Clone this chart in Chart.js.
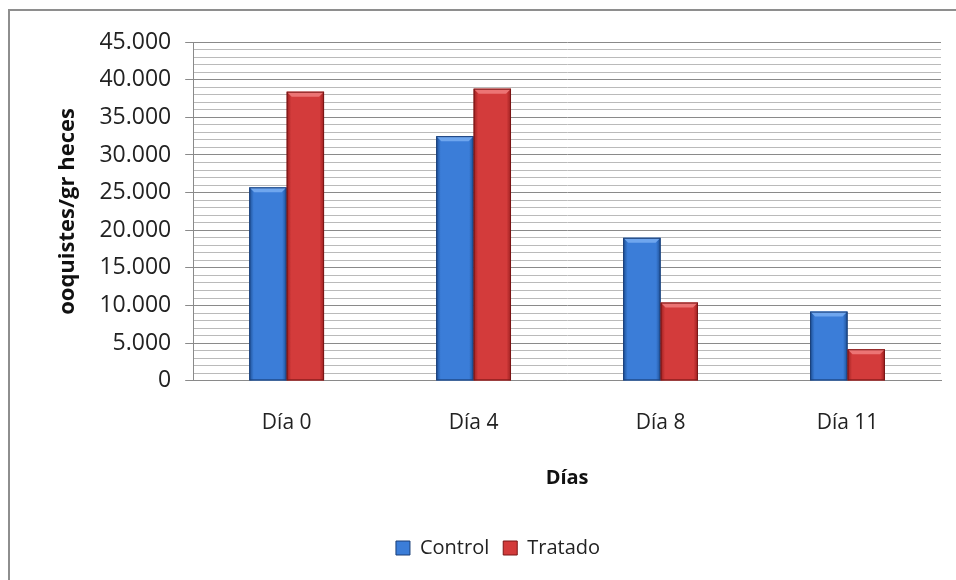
<!DOCTYPE html>
<html>
<head>
<meta charset="utf-8">
<script src="https://cdn.jsdelivr.net/npm/chart.js@4/dist/chart.umd.min.js"></script>
<style>
  html, body { margin: 0; padding: 0; background: #fff; }
  #marco { position: absolute; left: 8px; top: 9px; width: 960px; height: 590px; border: 2px solid #8e8e8e; box-sizing: border-box; }
  #contenedor { position: absolute; left: 0; top: 0; width: 956px; height: 580px; }
</style>
</head>
<body>
<div id="marco"></div>
<div id="contenedor"><canvas id="grafico"></canvas></div>
<script>
// Datos
const categorias = ['Día 0', 'Día 4', 'Día 8', 'Día 11'];
const control = [25700, 32500, 19000, 9200];
const tratado = [38400, 38800, 10400, 4200];
const ejeMax = 45000;
const pasoMayor = 5000;
const pasoMenor = 1000;

// Formato con punto de miles (45.000)
function formatoMiles(v) {
    return String(v).replace(/\B(?=(\d{3})+(?!\d))/g, '.');
}

const colores = {
    Control: { base: '#3b7dd8', claro: '#6fa6ee', oscuro: '#1d4f95', borde: '#1a3f78' },
    Tratado: { base: '#d33b3b', claro: '#ec7474', oscuro: '#9b1f1f', borde: '#7a1616' }
};

// Plugin para dar el efecto biselado a las barras
const biselBarras = {
    id: 'biselBarras',
    afterDatasetsDraw(chart) {
        const ctx = chart.ctx;
        chart.data.datasets.forEach((ds, i) => {
            const meta = chart.getDatasetMeta(i);
            const c = colores[ds.label];
            meta.data.forEach(bar => {
                const izq = bar.x - bar.width / 2;
                const der = bar.x + bar.width / 2;
                const arriba = bar.y;
                const abajo = bar.base;
                const b = 5;
                ctx.save();
                const grad = ctx.createLinearGradient(izq, 0, der, 0);
                grad.addColorStop(0, c.oscuro);
                grad.addColorStop(0.12, c.base);
                grad.addColorStop(0.5, c.base);
                grad.addColorStop(0.88, c.base);
                grad.addColorStop(1, c.oscuro);
                ctx.fillStyle = grad;
                ctx.fillRect(izq, arriba, der - izq, abajo - arriba);
                // bisel superior
                ctx.fillStyle = c.claro;
                ctx.beginPath();
                ctx.moveTo(izq, arriba);
                ctx.lineTo(der, arriba);
                ctx.lineTo(der - b, arriba + b);
                ctx.lineTo(izq + b, arriba + b);
                ctx.closePath();
                ctx.fill();
                ctx.strokeStyle = c.borde;
                ctx.lineWidth = 1;
                ctx.strokeRect(izq + 0.5, arriba + 0.5, der - izq - 1, abajo - arriba - 1);
                ctx.restore();
            });
        });
    }
};

const fuente = "'Open Sans', sans-serif";

new Chart(document.getElementById('grafico'), {
    type: 'bar',
    data: {
        labels: categorias,
        datasets: [
            { label: 'Control', data: control, backgroundColor: colores.Control.base, borderColor: colores.Control.borde, borderWidth: 1 },
            { label: 'Tratado', data: tratado, backgroundColor: colores.Tratado.base, borderColor: colores.Tratado.borde, borderWidth: 1 }
        ]
    },
    options: {
        responsive: true,
        maintainAspectRatio: false,
        animation: false,
        layout: { padding: { top: 42, right: 15, left: 55, bottom: 12 } },
        datasets: { bar: { categoryPercentage: 0.4, barPercentage: 1 } },
        plugins: {
            tooltip: { enabled: false },
            legend: {
                position: 'bottom',
                labels: {
                    font: { family: fuente, size: 20 },
                    color: '#222',
                    boxWidth: 14,
                    boxHeight: 14,
                    padding: 14
                }
            }
        },
        scales: {
            x: {
                grid: { display: false, drawTicks: false },
                border: { color: '#8a8a8a' },
                ticks: { font: { family: fuente, size: 21, lineHeight: 1.1 }, color: '#222', padding: 31 },
                title: {
                    display: true,
                    text: 'Días',
                    font: { family: fuente, size: 20, weight: 'bold' },
                    color: '#111',
                    padding: { top: 0, bottom: 34 }
                }
            },
            y: {
                min: 0,
                max: ejeMax,
                ticks: {
                    stepSize: pasoMenor,
                    autoSkip: false,
                    font: { family: fuente, size: 23 },
                    color: '#222',
                    padding: 14,
                    callback: v => (v % pasoMayor === 0 ? formatoMiles(v) : '')
                },
                grid: {
                    color: c => (c.tick && c.tick.value % pasoMayor === 0 ? '#8a8a8a' : '#bababa'),
                    tickColor: c => (c.tick && c.tick.value % pasoMayor === 0 ? '#8a8a8a' : 'rgba(0,0,0,0)'),
                    tickLength: 8
                },
                border: { color: '#8a8a8a' },
                title: {
                    display: true,
                    text: 'ooquistes/gr heces',
                    font: { family: fuente, size: 22, weight: 'bold' },
                    color: '#111',
                    padding: { top: 0, bottom: 4 }
                }
            }
        }
    },
    plugins: [biselBarras]
});
</script>
</body>
</html>
